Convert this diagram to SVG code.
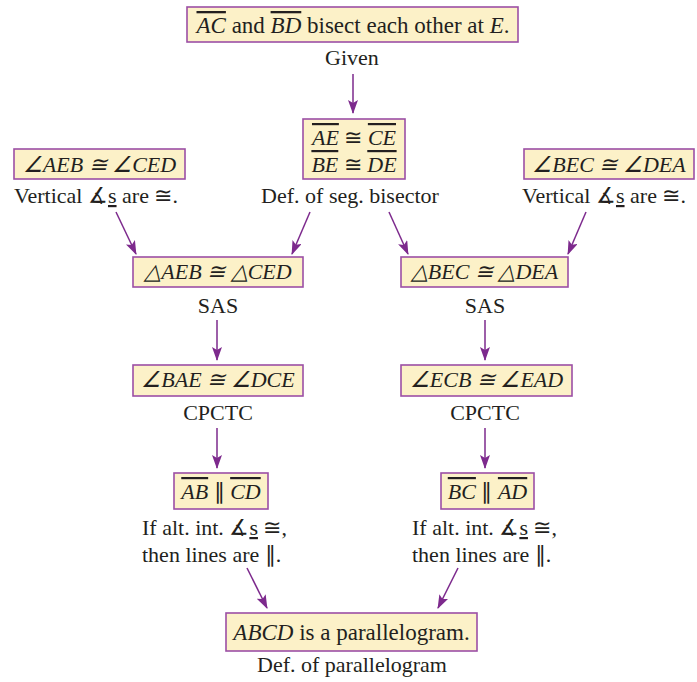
<svg xmlns="http://www.w3.org/2000/svg" width="697" height="682" viewBox="0 0 697 682">
<defs>
<style>
.box{fill:#fcf1c8;stroke:#9c4fa5;stroke-width:1.6}
.t{font-family:"Liberation Serif",serif;font-size:22px;fill:#231f20}
.big{font-size:23px}
.c{text-anchor:middle}
.i{font-style:italic}
.o{text-decoration:overline}
.u{text-decoration:underline}
.con line{stroke:#7d2a8d;stroke-width:1.5;marker-end:url(#ah)}
</style>
<marker id="ah" viewBox="0 0 14 10" refX="13" refY="5" markerWidth="14" markerHeight="10" markerUnits="userSpaceOnUse" orient="auto">
<path d="M0,0 L14,5 L0,10 L3,5 Z" fill="#7d2a8d"/>
</marker>
</defs>
<rect width="697" height="682" fill="#fff"/>

<g id="given">
<rect class="box" x="187" y="7" width="331" height="35"/>
<text class="t big c" x="353" y="33"><tspan class="i o">AC</tspan> and <tspan class="i o">BD</tspan> bisect each other at <tspan class="i">E</tspan>.</text>
<text class="t c" x="352" y="65">Given</text>
</g>

<g id="segs">
<rect class="box" x="303" y="119" width="102" height="60"/>
<text class="t c" x="354" y="145"><tspan class="i o">AE</tspan> ≅ <tspan class="i o">CE</tspan></text>
<text class="t c" x="354" y="172"><tspan class="i o">BE</tspan> ≅ <tspan class="i o">DE</tspan></text>
<text class="t c" x="350" y="203">Def. of seg. bisector</text>
</g>

<g id="vertL">
<rect class="box" x="14" y="149" width="171" height="30"/>
<text class="t c i" x="99.5" y="172">∠AEB ≅ ∠CED</text>
<text class="t c" x="96" y="203">Vertical ∡<tspan class="u">s</tspan> are ≅.</text>
</g>

<g id="vertR">
<rect class="box" x="524" y="149" width="170" height="30"/>
<text class="t c i" x="609" y="172">∠BEC ≅ ∠DEA</text>
<text class="t c" x="604" y="203">Vertical ∡<tspan class="u">s</tspan> are ≅.</text>
</g>

<g id="triL">
<rect class="box" x="133" y="257" width="170" height="30"/>
<text class="t c i" x="218" y="279">△AEB ≅ △CED</text>
<text class="t c" x="218" y="313">SAS</text>
</g>

<g id="triR">
<rect class="box" x="401" y="257" width="167" height="30"/>
<text class="t c i" x="484.5" y="279">△BEC ≅ △DEA</text>
<text class="t c" x="485" y="313">SAS</text>
</g>

<g id="angL">
<rect class="box" x="133" y="365" width="170" height="31"/>
<text class="t c i" x="218" y="387">∠BAE ≅ ∠DCE</text>
<text class="t c" x="218" y="420">CPCTC</text>
</g>

<g id="angR">
<rect class="box" x="401" y="365" width="171" height="31"/>
<text class="t c i" x="486.5" y="387">∠ECB ≅ ∠EAD</text>
<text class="t c" x="485" y="420">CPCTC</text>
</g>

<g id="parL">
<rect class="box" x="174" y="473" width="94" height="36"/>
<text class="t c" x="221" y="499"><tspan class="i o">AB</tspan> ∥ <tspan class="i o">CD</tspan></text>
<text class="t" x="142" y="535">If alt. int. ∡<tspan class="u">s</tspan> ≅,</text>
<text class="t" x="142" y="562">then lines are ∥.</text>
</g>

<g id="parR">
<rect class="box" x="441" y="473" width="93" height="36"/>
<text class="t c" x="487.5" y="499"><tspan class="i o">BC</tspan> ∥ <tspan class="i o">AD</tspan></text>
<text class="t" x="412" y="535">If alt. int. ∡<tspan class="u">s</tspan> ≅,</text>
<text class="t" x="412" y="562">then lines are ∥.</text>
</g>

<g id="concl">
<rect class="box" x="226" y="613" width="251" height="38"/>
<text class="t big c" x="351.5" y="640"><tspan class="i">ABCD</tspan> is a parallelogram.</text>
<text class="t c" x="352" y="672">Def. of parallelogram</text>
</g>

<g id="connectors" class="con">
<line x1="353" y1="74" x2="353" y2="113"/>
<line x1="116" y1="212" x2="136" y2="254"/>
<line x1="310" y1="212" x2="292" y2="254"/>
<line x1="389" y1="212" x2="408" y2="254"/>
<line x1="586" y1="212" x2="568" y2="254"/>
<line x1="217" y1="320" x2="217" y2="360"/>
<line x1="485" y1="320" x2="485" y2="360"/>
<line x1="217" y1="428" x2="217" y2="468"/>
<line x1="485" y1="428" x2="485" y2="468"/>
<line x1="247" y1="568" x2="267" y2="608"/>
<line x1="458" y1="568" x2="438" y2="608"/>
</g>
</svg>
